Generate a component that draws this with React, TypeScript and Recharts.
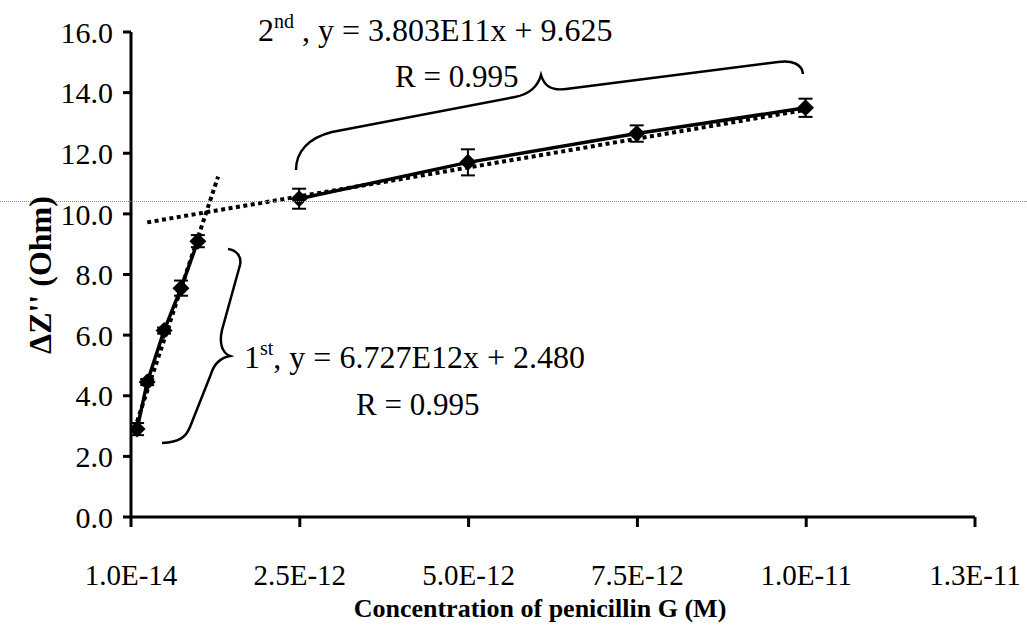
import { LineChart, Line, XAxis, YAxis, ErrorBar } from "recharts";

// ΔZ'' response vs penicillin G concentration, two linear ranges
const lowConc = [1e-13, 2.5e-13, 5e-13, 7.5e-13, 1e-12];
const lowDZ = [2.9, 4.45, 6.15, 7.55, 9.1];
const lowErr = [0.2, 0.1, 0.1, 0.25, 0.2];

const highConc = [2.5e-12, 5e-12, 7.5e-12, 1e-11];
const highDZ = [10.5, 11.7, 12.65, 13.5];
const highErr = [0.33, 0.43, 0.27, 0.3];

// trendline end points taken from the fitted equations
const fit1Conc = [1e-13, 1.3e-12];
const fit1DZ = [3.15, 11.23];
const fit2Conc = [2.5e-13, 1e-11];
const fit2DZ = [9.72, 13.43];

const xTicks = [1e-14, 2.51e-12, 5.01e-12, 7.51e-12, 1.001e-11, 1.251e-11];
const xTickLabels = ["1.0E-14", "2.5E-12", "5.0E-12", "7.5E-12", "1.0E-11", "1.3E-11"];
const yTicks = [0, 2, 4, 6, 8, 10, 12, 14, 16];

const toRows = (xs: number[], ys: number[], errs?: number[]) =>
  xs.map((x, i) => ({ x, y: ys[i], err: errs ? errs[i] : 0 }));

const lowData = toRows(lowConc, lowDZ, lowErr);
const highData = toRows(highConc, highDZ, highErr);
const fit1Data = toRows(fit1Conc, fit1DZ);
const fit2Data = toRows(fit2Conc, fit2DZ);

const FONT = "'Liberation Serif', 'DejaVu Serif', serif";

const Diamond = (props: any) => {
  const { cx, cy, index } = props;
  if (cx == null || cy == null) return null;
  const r = 8.5;
  return (
    <path
      key={`dm-${index}`}
      d={`M${cx},${cy - r}L${cx + r},${cy}L${cx},${cy + r}L${cx - r},${cy}Z`}
      fill="#000"
    />
  );
};

function Annotations() {
  const txt = { fontFamily: FONT };
  return (
    <svg
      width={1027}
      height={635}
      style={{ position: "absolute", left: 0, top: 0, pointerEvents: "none" }}
    >
      {/* faint horizontal rule running across the figure */}
      <line x1={0} y1={201.5} x2={1027} y2={201.5} stroke="#8a8a8a" strokeWidth={1} strokeDasharray="1 1" />

      {/* brace over the second range */}
      <path
        d="M296,170 C296,152 308,138 332,132 L515,97 C530,94 538,86 541,75 C544,85 550,91 566,89 L778,62 C792,60 802,64 803,74"
        fill="none"
        stroke="#000"
        strokeWidth={2.5}
      />
      <text x={258} y={41} fontSize={32} fill="#000" style={txt}>
        2<tspan fontSize={20} dy={-13}>nd</tspan>
        <tspan dy={13}> , y = 3.803E11x + 9.625</tspan>
      </text>
      <text x={395} y={87} fontSize={31} fill="#000" style={txt}>R = 0.995</text>

      {/* brace beside the first range */}
      <path
        d="M228,249 C236,250 242,256 240,265 L222,330 C219,343 222,353 230,356 C220,358 214,364 211,374 L190,427 C186,437 180,442 162,443"
        fill="none"
        stroke="#000"
        strokeWidth={2.5}
      />
      <text x={244} y={368} fontSize={32} fill="#000" style={txt}>
        1<tspan fontSize={20} dy={-13}>st</tspan>
        <tspan dy={13}>, y = 6.727E12x + 2.480</tspan>
      </text>
      <text x={356} y={415} fontSize={31} fill="#000" style={txt}>R = 0.995</text>

      {/* axis titles */}
      <text
        x={540}
        y={617}
        fontSize={26}
        fontWeight="bold"
        textAnchor="middle"
        fill="#000"
        style={txt}
      >
        Concentration of penicillin G (M)
      </text>
      <text
        transform="translate(40,275) rotate(-90)"
        fontSize={32}
        fontWeight="bold"
        textAnchor="middle"
        dominantBaseline="central"
        fill="#000"
        style={txt}
      >
        ΔZ'' (Ohm)
      </text>
    </svg>
  );
}

export default function App() {
  const xTickStyle = { fontFamily: FONT, fontSize: 29, fill: "#000" };
  const yTickStyle = { fontFamily: FONT, fontSize: 30, fill: "#000" };
  return (
    <div
      style={{
        position: "absolute",
        left: 0,
        top: 0,
        width: 1027,
        height: 635,
        background: "#fff",
        fontFamily: FONT,
      }}
    >
      <LineChart width={1027} height={635} margin={{ top: 32, right: 52, bottom: 0, left: 0 }}>
        <XAxis
          type="number"
          dataKey="x"
          domain={[1e-14, 1.251e-11]}
          ticks={xTicks}
          tickFormatter={(_v: number, i: number) => xTickLabels[i]}
          allowDataOverflow
          height={118}
          tickSize={10}
          tickMargin={37}
          axisLine={{ stroke: "#000", strokeWidth: 3 }}
          tickLine={{ stroke: "#000", strokeWidth: 3 }}
          tick={xTickStyle}
          interval={0}
        />
        <YAxis
          type="number"
          dataKey="y"
          domain={[0, 16]}
          ticks={yTicks}
          tickFormatter={(v: number) => v.toFixed(1)}
          allowDataOverflow
          width={131}
          tickSize={8}
          tickMargin={10}
          axisLine={{ stroke: "#000", strokeWidth: 3 }}
          tickLine={{ stroke: "#000", strokeWidth: 3 }}
          tick={yTickStyle}
          interval={0}
        />

        <Line
          data={fit1Data}
          dataKey="y"
          stroke="#000"
          strokeWidth={4}
          strokeDasharray="4 3.5"
          dot={false}
          activeDot={false}
          isAnimationActive={false}
        />
        <Line
          data={fit2Data}
          dataKey="y"
          stroke="#000"
          strokeWidth={4}
          strokeDasharray="4 3.5"
          dot={false}
          activeDot={false}
          isAnimationActive={false}
        />

        <Line
          data={lowData}
          dataKey="y"
          stroke="#000"
          strokeWidth={3.5}
          dot={Diamond}
          activeDot={false}
          isAnimationActive={false}
        >
          <ErrorBar dataKey="err" width={7} stroke="#000" strokeWidth={2} />
        </Line>
        <Line
          data={highData}
          dataKey="y"
          stroke="#000"
          strokeWidth={3.5}
          dot={Diamond}
          activeDot={false}
          isAnimationActive={false}
        >
          <ErrorBar dataKey="err" width={7} stroke="#000" strokeWidth={2} />
        </Line>
      </LineChart>
      <Annotations />
    </div>
  );
}
